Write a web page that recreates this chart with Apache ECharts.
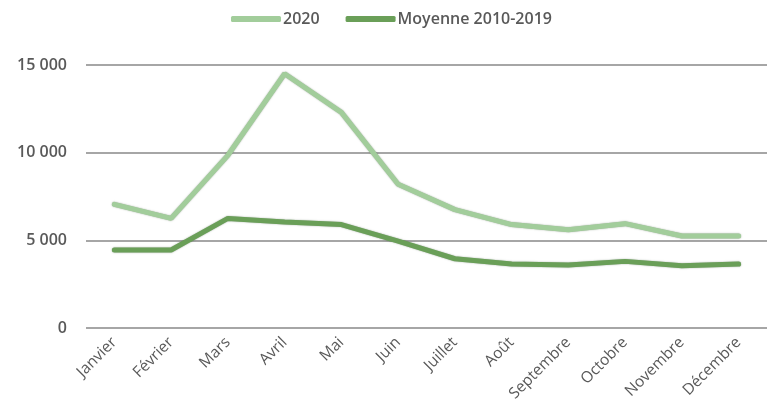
<!DOCTYPE html>
<html>
<head>
<meta charset="utf-8">
<script src="https://cdn.jsdelivr.net/npm/echarts@6/dist/echarts.min.js"></script>
<style>
  html, body { margin: 0; padding: 0; background: #ffffff; }
  #chart { width: 767px; height: 418px; }
</style>
</head>
<body>
<div id="chart"></div>
<script>
// mois
var mois = ['Janvier', 'Février', 'Mars', 'Avril', 'Mai', 'Juin',
  'Juillet', 'Août', 'Septembre', 'Octobre', 'Novembre', 'Décembre'];
// valeurs
var serie2020 = [7050, 6250, 9850, 14500, 12300, 8200, 6750, 5900, 5600, 5950, 5250, 5250];
var moyenne = [4450, 4450, 6250, 6050, 5900, 4950, 3950, 3650, 3600, 3800, 3550, 3650];
var noms = ['2020', 'Moyenne 2010-2019'];

var police = "'Open Sans', sans-serif";
var gris = '#595959';

var chart = echarts.init(document.getElementById('chart'));
var option = {
  animation: false,
  legend: {
    top: 6,
    left: 226,
    itemWidth: 50,
    itemHeight: 6,
    itemGap: 26,
    icon: 'roundRect',
    textStyle: {
      color: gris,
      fontSize: 16,
      fontWeight: 600,
      fontFamily: police,
      padding: [0, 0, 0, -3]
    },
    data: noms
  },
  grid: {
    left: 86,
    right: -9,
    top: 65,
    bottom: 90
  },
  xAxis: {
    type: 'category',
    data: mois,
    boundaryGap: true,
    axisLine: { show: false },
    axisTick: { show: false },
    axisLabel: {
      rotate: 45,
      margin: 12,
      color: gris,
      fontSize: 15.5,
      fontFamily: police
    }
  },
  yAxis: {
    type: 'value',
    min: 0,
    max: 15000,
    interval: 5000,
    axisLine: { show: false },
    axisTick: { show: false },
    splitLine: {
      lineStyle: { color: '#a6a6a6', width: 2 }
    },
    axisLabel: {
      margin: 19,
      color: gris,
      fontSize: 16,
      fontWeight: 600,
      fontFamily: police,
      formatter: function (v) {
        return String(v).replace(/\B(?=(\d{3})+(?!\d))/g, ' ');
      }
    }
  },
  series: [
    {
      name: noms[0],
      type: 'line',
      data: serie2020,
      symbol: 'none',
      itemStyle: { color: '#a2cd9b' },
      lineStyle: {
        color: '#a2cd9b',
        width: 5,
        cap: 'round',
        shadowColor: 'rgba(60,90,55,0.55)',
        shadowBlur: 1.5
      }
    },
    {
      name: noms[1],
      type: 'line',
      data: moyenne,
      symbol: 'none',
      itemStyle: { color: '#6a9f58' },
      lineStyle: {
        color: '#6a9f58',
        width: 5,
        cap: 'round',
        shadowColor: 'rgba(40,70,35,0.5)',
        shadowBlur: 1.5
      }
    }
  ]
};
chart.setOption(option);
</script>
</body>
</html>
